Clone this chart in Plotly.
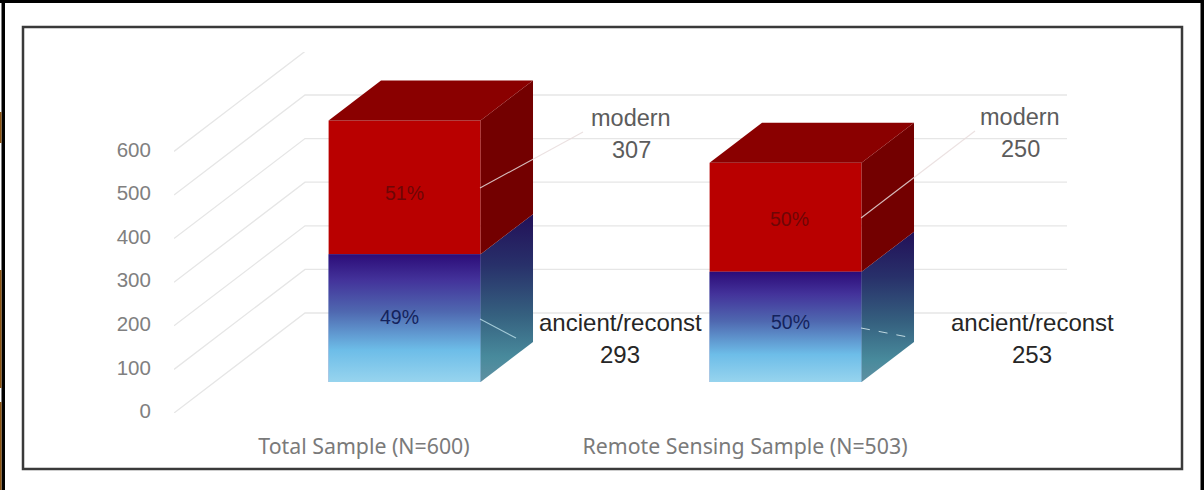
import plotly.graph_objects as go

# ---- data ----
categories = ["Total Sample (N=600)", "Remote Sensing Sample (N=503)"]
ancient = [293, 253]
modern = [307, 250]
ancient_pct = ["49%", "50%"]
modern_pct = ["51%", "50%"]
modern_name = "modern"
ancient_name = "ancient/reconst"
y_ticks = [0, 100, 200, 300, 400, 500, 600]

# ---- layout constants (pixels) ----
W, H = 1204, 490
L, R, T, B = 174, 1067, 52, 413
PX_PER_UNIT = 0.436
CAT_STEP = 381.0
CAT0 = 364.0
WALL_DX, WALL_DY = 131.0, 100.0
BAR_FRONT, BAR_BACK = 0.31, 0.71
BAR_W = 152.0

def X(px):
    return 1 + (px - CAT0) / CAT_STEP

def Y(py):
    return (B - py) / PX_PER_UNIT

def dX(px):
    return px / CAT_STEP

def dY(px):
    return px / PX_PER_UNIT

wall_x, wall_y = dX(WALL_DX), dY(WALL_DY)
fx, fy = wall_x * BAR_FRONT, wall_y * BAR_FRONT
bx, by = wall_x * BAR_BACK, wall_y * BAR_BACK
bw = dX(BAR_W)
positions = [1, 2]

fig = go.Figure()

# grid: floor diagonal + back wall
gx, gy = [], []
x_left, x_right = X(L), X(R)
for t in y_ticks:
    gx += [x_left, x_left + wall_x, x_right, None]
    gy += [t, t + wall_y, t + wall_y, None]
fig.add_trace(go.Scatter(x=gx, y=gy, mode="lines", line=dict(color="#e6e6e6", width=1.3),
                         hoverinfo="skip", showlegend=False, zorder=0))

# stops run from the bottom of the face to its top
front_grad = [[0, "#97d4ee"], [0.25, "#6dbde8"], [0.55, "#4f68b0"], [0.8, "#43329a"], [1, "#2c0c78"]]
side_grad = [[0, "#5f90a2"], [0.15, "#488a9c"], [0.4, "#35607f"], [0.7, "#28306a"], [1, "#221058"]]

def poly(xs, ys, color=None, grad=None, z=2):
    kw = dict(fillgradient=dict(type="vertical", colorscale=grad)) if grad else dict(fillcolor=color)
    fig.add_trace(go.Scatter(x=xs + xs[:1], y=ys + ys[:1], mode="lines", fill="toself",
                             line=dict(width=0), hoverinfo="skip", showlegend=False, zorder=z, **kw))

for i, p in enumerate(positions):
    a, m = ancient[i], modern[i]
    x0 = p + fx - bw / 2
    x1 = x0 + bw
    d = dX(WALL_DX * (BAR_BACK - BAR_FRONT))
    e = dY(WALL_DY * (BAR_BACK - BAR_FRONT))
    # front faces as bars
    fig.add_trace(go.Bar(x=[x0 + bw / 2], y=[a], base=[fy], width=[bw], marker=dict(color="#4f68b0", line=dict(width=0)),
                         name=ancient_name, showlegend=False, hoverinfo="skip", zorder=1))
    fig.add_trace(go.Bar(x=[x0 + bw / 2], y=[m], base=[fy + a], width=[bw], marker=dict(color="#b90000", line=dict(width=0)),
                         name=modern_name, showlegend=False, hoverinfo="skip", zorder=1))
    # gradient on the ancient front
    poly([x0, x1, x1, x0], [fy, fy, fy + a, fy + a], grad=front_grad)
    # side faces
    poly([x1, x1 + d, x1 + d, x1], [fy, fy + e, fy + e + a, fy + a], grad=side_grad)
    poly([x1, x1 + d, x1 + d, x1], [fy + a, fy + a + e, fy + a + m + e, fy + a + m], color="#730000")
    # top face
    t = fy + a + m
    poly([x0, x1, x1 + d, x0 + d], [t, t, t + e, t + e], color="#8a0000")

# leader lines
lead_start_modern = [(480, 188), (861, 218)]
lead_end_modern = [(583, 132), (975, 131)]
lead_start_anc = [(480, 319), (861, 328)]
lead_end_anc = [(516, 338), (913, 338)]
for (s, e), c, dash, wd in (
    *[((s, e), "rgba(232,220,220,0.85)", "solid", 1.1) for s, e in zip(lead_start_modern, lead_end_modern)],
    (((lead_start_anc[0]), (lead_end_anc[0])), "rgba(190,225,235,0.8)", "solid", 1.1),
    (((lead_start_anc[1]), (lead_end_anc[1])), "rgba(215,235,240,0.85)", "dash", 1.0),
):
    fig.add_trace(go.Scatter(x=[X(s[0]), X(e[0])], y=[Y(s[1]), Y(e[1])], mode="lines",
                             line=dict(color=c, width=wd, dash=dash), hoverinfo="skip", showlegend=False, zorder=4))

ann = []
def label(px, py, text, color, size, family="Liberation Sans"):
    ann.append(dict(x=X(px), y=Y(py), xref="x", yref="y", text=text, showarrow=False,
                    xanchor="center", yanchor="middle", font=dict(family=family, size=size, color=color)))

mod_xy = [(631, 118), (1020, 117)]
anc_xy = [(620, 322), (1032, 322)]
for i in range(2):
    label(mod_xy[i][0], mod_xy[i][1], modern_name, "#5c5c5c", 23.5)
    label(mod_xy[i][0], mod_xy[i][1] + 32, str(modern[i]), "#5c5c5c", 23.5)
    label(anc_xy[i][0], anc_xy[i][1], ancient_name, "#262626", 24)
    label(anc_xy[i][0], anc_xy[i][1] + 32, str(ancient[i]), "#262626", 24)

pct_mod_xy = [(404, 193), (789, 219)]
pct_anc_xy = [(399, 317), (790, 322)]
for i in range(2):
    label(pct_mod_xy[i][0], pct_mod_xy[i][1], modern_pct[i], "#6e0606", 19.5)
    label(pct_anc_xy[i][0], pct_anc_xy[i][1], ancient_pct[i], "#14235c", 19.5)

def PXx(px):
    return (px - L) / (R - L)

def PXy(py):
    return (B - py) / (B - T)

def rect(x0, y0, x1, y1, fill=None, line=None, lw=0):
    return dict(type="rect", xref="paper", yref="paper", x0=PXx(x0), x1=PXx(x1), y0=PXy(y0), y1=PXy(y1),
                fillcolor=fill if fill else "rgba(0,0,0,0)", line=dict(color=line if line else "rgba(0,0,0,0)", width=lw),
                layer="above")

shapes = [
    rect(23, 27, 1182, 469, line="#3a3a3a", lw=2.5),
    rect(1.5, 0, 5, H, fill="#000000"),
    rect(0, 0, W, 3, fill="#000000"),
    rect(1200.5, 0, W, H, fill="#000000"),
    rect(0, 112, 1.5, 143, fill="#8a5210"),
    rect(0, 270, 1.5, 388, fill="#8a5210"),
    rect(0, 402, 1.5, H, fill="#8a5210"),
]

fig.update_layout(
    width=W, height=H, autosize=False,
    margin=dict(l=L, r=W - R, t=T, b=H - B, pad=0),
    paper_bgcolor="#ffffff", plot_bgcolor="rgba(0,0,0,0)",
    barmode="overlay", showlegend=False,
    annotations=ann, shapes=shapes,
    xaxis=dict(range=[x_left, x_right], tickvals=positions, ticktext=categories, showgrid=False, zeroline=False,
               showline=False, ticks="outside", ticklen=14, tickcolor="rgba(0,0,0,0)",
               tickfont=dict(family="Noto Sans", size=21.3, color="#7a7a7a")),
    yaxis=dict(range=[0, (B - T) / PX_PER_UNIT], tickvals=y_ticks, showgrid=False, zeroline=False,
               showline=False, ticks="outside", ticklen=18, tickcolor="rgba(0,0,0,0)", ticklabelshift=-2,
               tickfont=dict(family="Liberation Sans", size=20.5, color="#808080")),
)

fig.write_html("out.html", config=dict(displayModeBar=False),
               post_script="document.body.style.margin='0';document.body.style.overflow='hidden';")
